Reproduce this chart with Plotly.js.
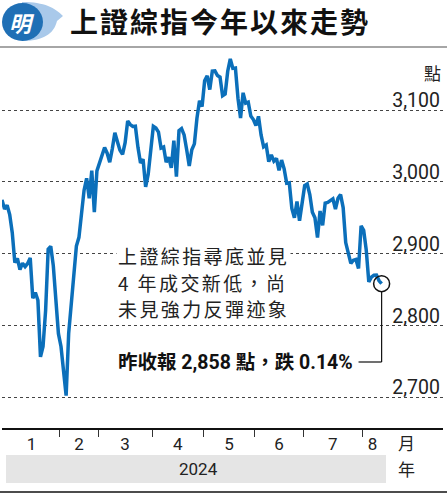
<!DOCTYPE html>
<html><head><meta charset="utf-8">
<script src="https://cdn.plot.ly/plotly-3.0.1.min.js"></script>
<style>
html,body{margin:0;padding:0;background:#fff;}
#chart{width:447px;height:494px;}
text[data-unformatted^="上證綜指尋"], text[data-unformatted^="4 年"], text[data-unformatted^="未見"]{letter-spacing:2.4px;}
.gtitle{letter-spacing:2px;}
</style>
</head><body><div id="chart"></div>
<script>
// Shanghai Composite daily closes, 2023-12-29 .. 2024-08-12 (trading days)
const monthLabels = ['1','2','3','4','5','6','7','8'];
const monthTradingDays = [22,15,21,20,20,19,23,8];
const closes = [
  2974.9,
  // Jan
  2962.3,2967.3,2954.4,2929.2,2887.5,2893.3,2877.7,2886.7,2882.0,2886.3,2894.0,2838.0,2846.0,2835.0,2756.3,2770.7,2820.8,2906.1,2910.2,2883.4,2830.5,2788.6,
  // Feb
  2770.7,2730.2,2702.2,2789.5,2829.7,2865.9,2910.5,2922.7,2951.8,2988.4,3004.9,2977.0,3015.5,2957.9,3015.2,
  // Mar
  3027.0,3039.3,3047.8,3039.9,3027.4,3046.0,3068.5,3055.9,3043.8,3038.2,3054.6,3084.9,3079.7,3077.1,3077.4,3048.0,3026.3,3031.5,2993.1,3010.7,3041.2,
  // Apr
  3077.4,3075.0,3069.3,3047.1,3048.5,3027.3,3034.3,3019.5,3057.4,3007.1,3071.4,3074.2,3065.3,3044.6,3022.0,3044.8,3052.9,3088.6,3113.0,3104.8,
  // May
  3140.7,3147.7,3128.5,3154.3,3154.6,3148.0,3145.8,3119.9,3122.4,3154.0,3171.2,3158.0,3158.5,3116.4,3088.9,3124.0,3109.6,3111.0,3091.7,3086.8,
  // Jun
  3078.5,3091.2,3065.4,3048.8,3051.3,3028.1,3037.5,3028.9,3032.6,3015.9,3030.3,3018.1,2998.1,2998.6,2963.1,2950.0,2972.5,2945.9,2967.4,
  // Jul
  2994.7,2997.0,2982.4,2957.6,2949.9,2922.5,2959.4,2939.4,2970.4,2971.3,2974.0,2976.3,2962.2,2977.1,2982.3,2964.2,2915.4,2902.0,2886.4,2890.9,2891.9,2879.3,2938.8,
  // Aug
  2932.4,2905.3,2860.7,2867.3,2869.9,2870.2,2862.2,2858.2
];
const yTicks = [2700,2800,2900,3000,3100];
const yTickText = ['2,700','2,800','2,900','3,000','3,100'];
const noteLines = ['上證綜指尋底並見','4 年成交新低，尚','未見強力反彈迹象'];
const lastCloseText = '昨收報 2,858 點，跌 0.14%';
const titleText = '上證綜指今年以來走勢';
const yearLabel = '2024';

const xIdx = closes.map((_, i) => i);
const mids = [], bounds = [];
let s = 1;
monthTradingDays.forEach((d, k) => {
  mids.push(s + (d - 1) / 2);
  if (k < monthTradingDays.length - 1) bounds.push(s + d - 0.5);
  s += d;
});
const lastI = closes.length - 1;

const W = 447, H = 494, L = 2, R = 443, T = 50, B = 428;
const px = x => (x - L) / (R - L);
const py = y => (B - y) / (B - T);
const CJK = '"Noto Sans CJK TC", "Noto Sans CJK SC", sans-serif';
const NUM = 'Roboto, "Noto Sans CJK TC", sans-serif';

function pathPx(cmds) {
  return cmds.map(c => c[0] + ' ' + c.slice(1).reduce((a, v, j, arr) => {
    if (j % 2 === 0) a.push(px(v).toFixed(4) + ',' + py(arr[j + 1]).toFixed(4));
    return a;
  }, []).join(' ')).join(' ') + ' Z';
}

const data = [
  {x: xIdx, y: closes, type: 'scatter', mode: 'lines',
   line: {color: '#0b6fba', width: 3.5}, hoverinfo: 'skip'},
  {x: [lastI], y: [closes[lastI]], type: 'scatter', mode: 'markers',
   marker: {symbol: 'circle-open', size: 16, color: '#111', line: {width: 1.5}}, hoverinfo: 'skip'}
];

function ann(text, x, y, font, extra) {
  return Object.assign({text, xref: 'paper', yref: 'paper', x: px(x), y: py(y),
    xanchor: 'center', yanchor: 'middle', showarrow: false, font}, extra || {});
}

const layout = {
  width: W, height: H,
  margin: {l: L, r: W - R, t: T, b: H - B, pad: 0, autoexpand: false},
  paper_bgcolor: '#fff', plot_bgcolor: '#fff',
  showlegend: false,
  title: {text: titleText, font: {family: CJK, size: 28, weight: 'bold', color: '#111'},
          xref: 'container', x: 70 / W, xanchor: 'left', yref: 'container', y: 1 - 23 / H, yanchor: 'middle'},
  xaxis: {
    range: [0, (R - L) / 2.565], showgrid: false, zeroline: false,
    showline: true, linecolor: '#111', linewidth: 1.5,
    tickmode: 'array', tickvals: mids, ticktext: monthLabels, ticks: '',
    tickfont: {family: NUM, size: 17, color: '#222'},
    minor: {tickmode: 'array', tickvals: bounds, ticks: 'outside', ticklen: 7, tickwidth: 1, tickcolor: '#333', showgrid: false},
    automargin: false, fixedrange: true
  },
  yaxis: {
    range: [2657.2, 3183.6], side: 'right', zeroline: false, showline: false,
    tickmode: 'array', tickvals: yTicks, ticktext: yTickText, ticks: '',
    ticklabelposition: 'inside top', ticklabelshift: 4,
    tickfont: {family: NUM, size: 19.5, color: '#222'},
    showgrid: true, griddash: 'dot', gridcolor: '#444', gridwidth: 1,
    automargin: false, fixedrange: true
  },
  shapes: [
    {type: 'line', xref: 'paper', yref: 'paper', x0: px(0), x1: px(W), y0: py(47), y1: py(47), line: {color: '#888', width: 1.5}},
    {type: 'path', xref: 'paper', yref: 'paper', path: pathPx([['M',22,2],['C',45,2,55,8,63,16],['L',57,21],['C',54,34,43,41,22,41]]), fillcolor: '#a9c9ea', line: {width: 0}},
    {type: 'circle', xref: 'paper', yref: 'paper', x0: px(2), x1: px(43), y0: py(41), y1: py(3), fillcolor: '#1f6fb5', line: {width: 0}},
    {type: 'rect', xref: 'paper', yref: 'paper', x0: px(6), x1: px(386), y0: py(483), y1: py(455), fillcolor: '#e5e5e5', line: {width: 0}},
    {type: 'line', xref: 'paper', yref: 'paper', x0: px(0), x1: px(W), y0: py(492), y1: py(492), line: {color: '#111', width: 1.5}},
    {type: 'line', xref: 'x', yref: 'paper', x0: lastI, x1: lastI, y0: py(292), y1: py(362), line: {color: '#111', width: 1.2}},
    {type: 'line', xref: 'x', yref: 'paper', x0: lastI, x1: lastI - 9, y0: py(362), y1: py(362), line: {color: '#111', width: 1.2}}
  ],
  annotations: [
    ann('<i>明</i>', 22, 22, {family: CJK, size: 22, weight: 'bold', color: '#fff'}),
    ann('點', 432, 72, {family: CJK, size: 17, color: '#222'}),
    ann(noteLines[0], 116, 255, {family: CJK, size: 19, color: '#222'}, {xanchor: 'left', bgcolor: '#fff', borderpad: 1}),
    ann(noteLines[1], 116, 282.5, {family: CJK, size: 19, color: '#222'}, {xanchor: 'left'}),
    ann(noteLines[2], 116, 308.5, {family: CJK, size: 19, color: '#222'}, {xanchor: 'left'}),
    ann(lastCloseText, 116, 362, {family: NUM, size: 19.5, weight: 'bold', color: '#111'}, {xanchor: 'left'}),
    ann('月', 406, 442, {family: CJK, size: 17, color: '#222'}),
    ann(yearLabel, 198, 469, {family: NUM, size: 17, color: '#222'}),
    ann('年', 406, 469, {family: CJK, size: 17, color: '#222'})
  ]
};

Plotly.newPlot('chart', data, layout, {staticPlot: true, displayModeBar: false});
</script>
</body></html>
